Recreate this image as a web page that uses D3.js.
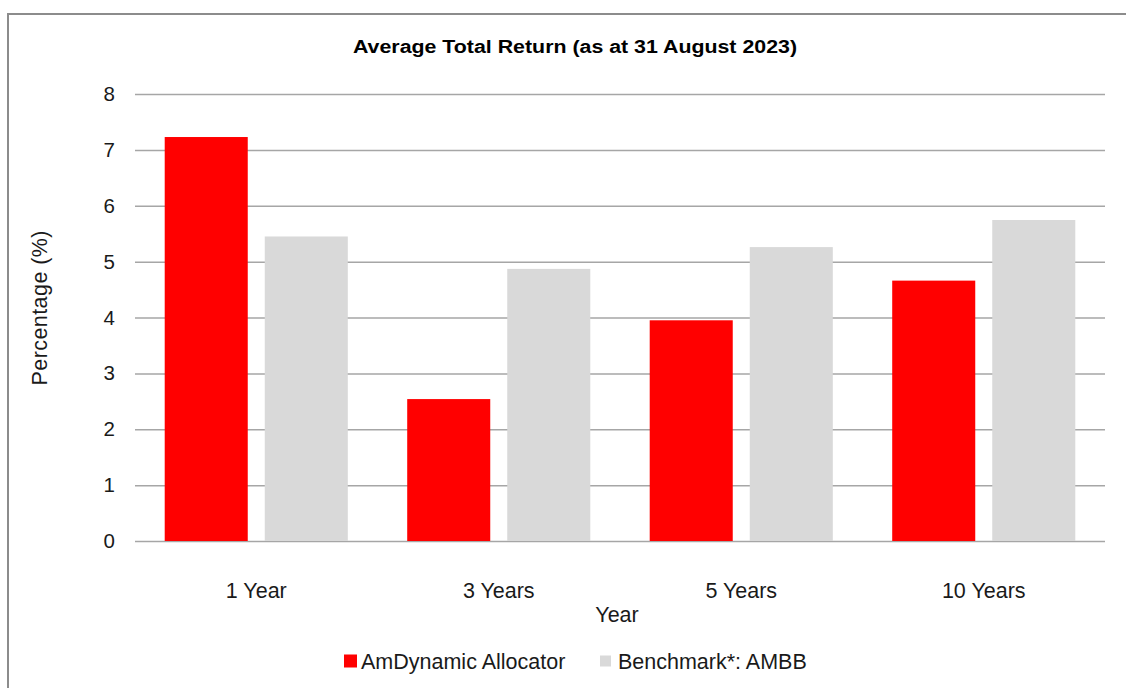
<!DOCTYPE html>
<html>
<head>
<meta charset="utf-8">
<script src="https://cdn.jsdelivr.net/npm/d3@7"></script>
<style>
  html, body { margin: 0; padding: 0; background: #fff; }
  svg { display: block; font-family: "Liberation Sans", Arial, sans-serif; }
</style>
</head>
<body>
<svg id="chart" width="1126" height="688"></svg>
<script>
const categories = ["1 Year", "3 Years", "5 Years", "10 Years"];
const seriesNames = ["AmDynamic Allocator", "Benchmark*: AMBB"];
const fundValues = [7.23, 2.54, 3.95, 4.66];
const benchmarkValues = [5.45, 4.87, 5.26, 5.745];
const yTicks = [0, 1, 2, 3, 4, 5, 6, 7, 8];
const colors = ["#ff0000", "#d9d9d9"];

(function () {
const svg = d3.select("#chart");
const plotLeft = 135, plotRight = 1105, plotTop = 94, plotBottom = 541;
const fs = 21.5;

// frame
svg.append("rect").attr("x", 8).attr("y", 14).attr("width", 1130).attr("height", 700)
  .attr("fill", "#fff").attr("stroke", "#8c8c8c").attr("stroke-width", 2);

// title
svg.append("text").attr("x", 575).attr("y", 53).attr("text-anchor", "middle")
  .attr("font-size", 18).attr("font-weight", "bold").attr("fill", "#000")
  .attr("textLength", 444).attr("lengthAdjust", "spacingAndGlyphs")
  .text("Average Total Return (as at 31 August 2023)");

const y = d3.scaleLinear().domain([0, 8]).range([plotBottom, plotTop]);
const x0 = d3.scaleBand().domain(categories).range([plotLeft, plotRight])
  .paddingInner(0.245).paddingOuter(0.1225);
const x1 = d3.scaleBand().domain(seriesNames).range([0, x0.bandwidth()]).paddingInner(0.17);

// y axis with gridlines
const yAxis = svg.append("g").attr("transform", `translate(${plotLeft},0)`)
  .call(d3.axisLeft(y).tickValues(yTicks).tickFormat(d3.format("d"))
    .tickSizeInner(-(plotRight - plotLeft)).tickSizeOuter(0).tickPadding(20));
yAxis.select(".domain").remove();
yAxis.selectAll(".tick line").attr("stroke", "#a6a6a6").attr("stroke-width", 1.5);
yAxis.selectAll(".tick text").attr("font-size", 20.5).attr("fill", "#1a1a1a")
  .attr("font-family", "Liberation Sans, Arial, sans-serif");

// bars
const rows = categories.map((c, i) => ({ cat: c, vals: [fundValues[i], benchmarkValues[i]] }));
const groups = svg.append("g").selectAll("g").data(rows).join("g")
  .attr("transform", d => `translate(${x0(d.cat)},0)`);
groups.selectAll("rect").data(d => d.vals.map((v, j) => ({ name: seriesNames[j], v, j })))
  .join("rect")
  .attr("x", d => x1(d.name))
  .attr("width", x1.bandwidth())
  .attr("y", d => y(d.v))
  .attr("height", d => y(0) - y(d.v))
  .attr("fill", d => colors[d.j]);

// x axis
const xAxis = svg.append("g").attr("transform", `translate(0,${plotBottom})`)
  .call(d3.axisBottom(x0).tickSize(0).tickPadding(42));
xAxis.select(".domain").remove();
xAxis.selectAll(".tick text").attr("font-size", fs).attr("fill", "#1a1a1a")
  .attr("font-family", "Liberation Sans, Arial, sans-serif");

// axis titles
svg.append("text").attr("x", 617).attr("y", 622).attr("text-anchor", "middle")
  .attr("font-size", fs).attr("fill", "#1a1a1a").text("Year");
svg.append("text").attr("transform", "translate(47,308) rotate(-90)")
  .attr("text-anchor", "middle").attr("font-size", fs).attr("fill", "#1a1a1a")
  .attr("textLength", 155).attr("lengthAdjust", "spacing")
  .text("Percentage (%)");

// legend
const legend = [
  { name: seriesNames[0], color: colors[0], sx: 344, size: 13, tx: 361 },
  { name: seriesNames[1], color: colors[1], sx: 600, size: 11, tx: 618 }
];
const lg = svg.append("g").selectAll("g").data(legend).join("g");
lg.append("rect").attr("x", d => d.sx).attr("y", d => 661 - d.size / 2)
  .attr("width", d => d.size).attr("height", d => d.size).attr("fill", d => d.color);
lg.append("text").attr("x", d => d.tx).attr("y", 668.5).attr("font-size", fs)
  .attr("fill", "#1a1a1a").text(d => d.name);
})();
</script>
</body>
</html>
